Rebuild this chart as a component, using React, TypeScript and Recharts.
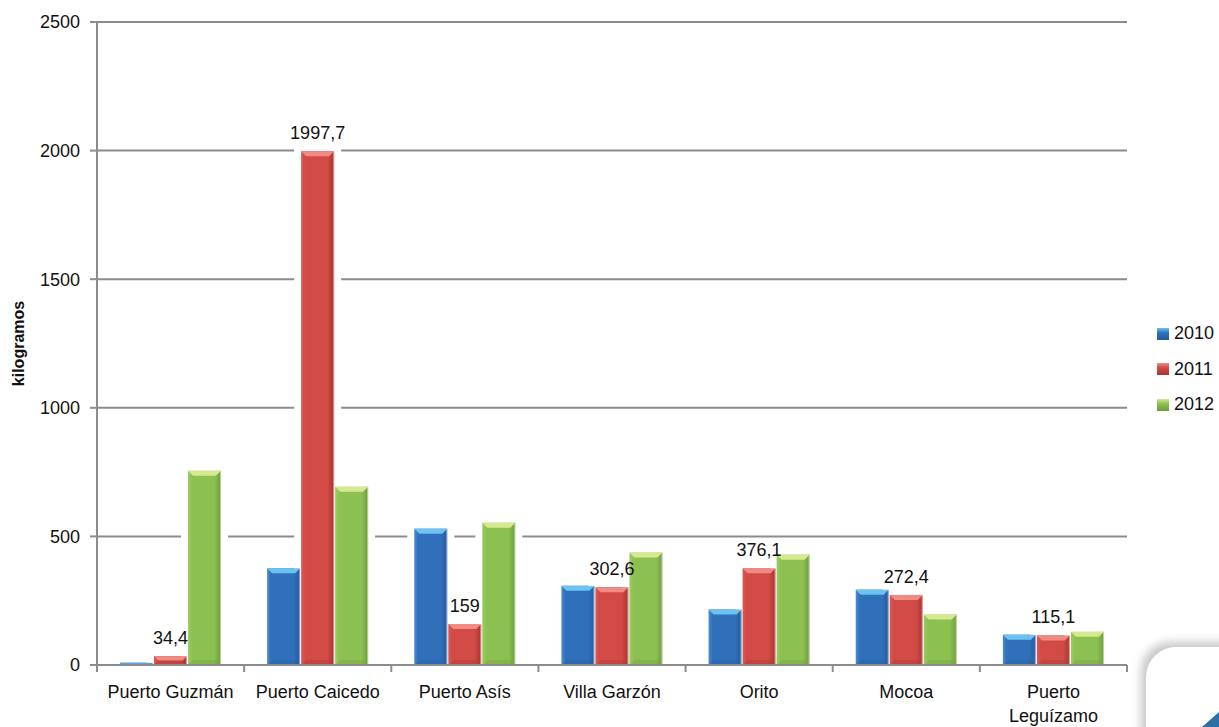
import { BarChart, Bar, XAxis, YAxis, CartesianGrid, LabelList } from 'recharts'

const categories = ['Puerto Guzmán', 'Puerto Caicedo', 'Puerto Asís', 'Villa Garzón', 'Orito', 'Mocoa', 'Puerto Leguízamo']
const values2010 = [9, 376, 530, 308, 216, 293, 118]
const values2011 = [34.4, 1997.7, 159, 302.6, 376.1, 272.4, 115.1]
const values2012 = [755, 693, 553, 437, 429, 196, 129]
const yTicks = [0, 500, 1000, 1500, 2000, 2500]
const seriesNames = ['2010', '2011', '2012']
const seriesKeys = ['y2010', 'y2011', 'y2012']

// bevel palette per series: main, light top, dark right edge
const palette = [
  { main: '#3070bb', light: '#6cc2f0', dark: '#255a9e', side: '#4a8ad0' },
  { main: '#d24a45', light: '#f28a84', dark: '#a53431', side: '#dc5a55' },
  { main: '#8cc152', light: '#d6e98f', dark: '#6f9a3b', side: '#9dcd62' },
]

const FONT = '"Liberation Sans", Arial, sans-serif'
const GRID = '#8c8c8c'
const PLOT_LEFT = 97
const PLOT_RIGHT = 1127
const CAT_W = (PLOT_RIGHT - PLOT_LEFT) / categories.length

const data = categories.map((c, i) => ({
  name: c,
  y2010: values2010[i],
  y2011: values2011[i],
  y2012: values2012[i],
}))

const fmtComma = (v: any) => String(v).replace('.', ',')

// bar with a white halo (cuts the gridlines) and a bevelled look
const makeShape = (si: number) => (props: any) => {
  const { x, y, width: w, height: h, payload } = props
  if (!h || h <= 0) return null
  const p = palette[si]
  const g = 7
  const val = payload[seriesKeys[si]]
  const k = val > 0 ? h / val : 0
  const bottom = y + h
  let leftTop = bottom
  if (si > 0) leftTop = bottom - payload[seriesKeys[si - 1]] * k
  const b = Math.min(5, h / 2)
  return (
    <g>
      <rect x={x} y={y - g} width={w + g} height={h + g} fill="#fff" />
      {leftTop > y - g && <rect x={x - g} y={y - g} width={g} height={leftTop - (y - g)} fill="#fff" />}
      <rect x={x} y={y} width={w} height={h} fill={`url(#grad${si})`} />
      <polygon points={`${x},${y} ${x + w},${y} ${x + w - b},${y + b} ${x + b},${y + b}`} fill={p.light} />
      <polygon points={`${x},${bottom} ${x + w},${bottom} ${x + w - b},${bottom - b} ${x + b},${bottom - b}`} fill={p.dark} opacity={0.3} />
      <rect x={x + w - 1} y={y} width={1} height={h} fill="#ffffff" opacity={0.5} />
    </g>
  )
}

const CatTick = (props: any) => {
  const { x, y, payload, index } = props
  const label: string = payload.value
  const lines = label.length > 14 ? label.split(' ') : [label]
  const left = x - CAT_W / 2
  return (
    <g>
      <line x1={left} y1={y} x2={left} y2={y + 7} stroke={GRID} strokeWidth={2} />
      {index === categories.length - 1 && (
        <line x1={x + CAT_W / 2} y1={y} x2={x + CAT_W / 2} y2={y + 7} stroke={GRID} strokeWidth={2} />
      )}
      <text textAnchor="middle" fontFamily={FONT} fontSize={18} fill="#111">
        {lines.map((l, i) => (
          <tspan key={i} x={x} y={y + 33 + i * 24}>{l}</tspan>
        ))}
      </text>
    </g>
  )
}

export default function App() {
  return (
    <div style={{ position: 'absolute', left: 0, top: 0, width: 1219, height: 727, overflow: 'hidden', background: '#fff' }}>
      <BarChart
        width={1219}
        height={727}
        data={data}
        margin={{ top: 22, right: 1219 - PLOT_RIGHT, left: 0, bottom: 0 }}
        barCategoryGap={23}
        barGap={1}
      >
        <defs>
          {palette.map((p, i) => (
            <linearGradient key={i} id={`grad${i}`} x1="0" y1="0" x2="1" y2="0">
              <stop offset="0%" stopColor={p.side} />
              <stop offset="12%" stopColor={p.main} />
              <stop offset="80%" stopColor={p.main} />
              <stop offset="100%" stopColor={p.dark} />
            </linearGradient>
          ))}
        </defs>
        <CartesianGrid vertical={false} stroke={GRID} strokeWidth={2} />
        <XAxis
          dataKey="name"
          interval={0}
          tickLine={false}
          tickSize={0}
          tickMargin={0}
          height={62}
          axisLine={{ stroke: GRID, strokeWidth: 2 }}
          tick={<CatTick />}
        />
        <YAxis
          domain={[0, 2500]}
          ticks={yTicks}
          width={PLOT_LEFT}
          tickSize={7}
          tickMargin={10}
          tickLine={{ stroke: GRID, strokeWidth: 2 }}
          axisLine={{ stroke: GRID, strokeWidth: 2 }}
          tick={{ fill: '#111', fontSize: 18, fontFamily: FONT }}
          label={{ value: 'kilogramos', angle: -90, position: 'insideLeft', offset: 18, style: { fontFamily: FONT, fontSize: 16, fontWeight: 'bold', fill: '#111', textAnchor: 'middle' } }}
        />
        {seriesKeys.map((k, i) => (
          <Bar key={k} dataKey={k} name={seriesNames[i]} fill={palette[i].main} shape={makeShape(i)} isAnimationActive={false}>
            {i === 1 && (
              <LabelList dataKey={k} position="top" offset={12} formatter={fmtComma} style={{ fontFamily: FONT, fontSize: 18, fill: '#111' }} />
            )}
          </Bar>
        ))}
      </BarChart>

      {/* legend */}
      <div style={{ position: 'absolute', left: 1157, top: 316, fontFamily: FONT, fontSize: 18, color: '#111' }}>
        {seriesNames.map((n, i) => (
          <div key={n} style={{ display: 'flex', alignItems: 'center', height: 35.5 }}>
            <div style={{ width: 12, height: 12, marginRight: 5, background: `linear-gradient(180deg, ${palette[i].light} 0%, ${palette[i].main} 40%, ${palette[i].dark} 100%)` }} />
            <span>{n}</span>
          </div>
        ))}
      </div>

      {/* slide corner decoration */}
      <div style={{ position: 'absolute', left: 1146, top: 647, width: 120, height: 120, borderRadius: 30, background: '#fff', boxShadow: '-5px -5px 10px rgba(0,0,0,0.22)' }} />
      <svg style={{ position: 'absolute', left: 1190, top: 700 }} width={29} height={27}>
        <polygon points="12,27 29,27 29,12" fill="#2a6ea8" />
      </svg>
    </div>
  )
}
